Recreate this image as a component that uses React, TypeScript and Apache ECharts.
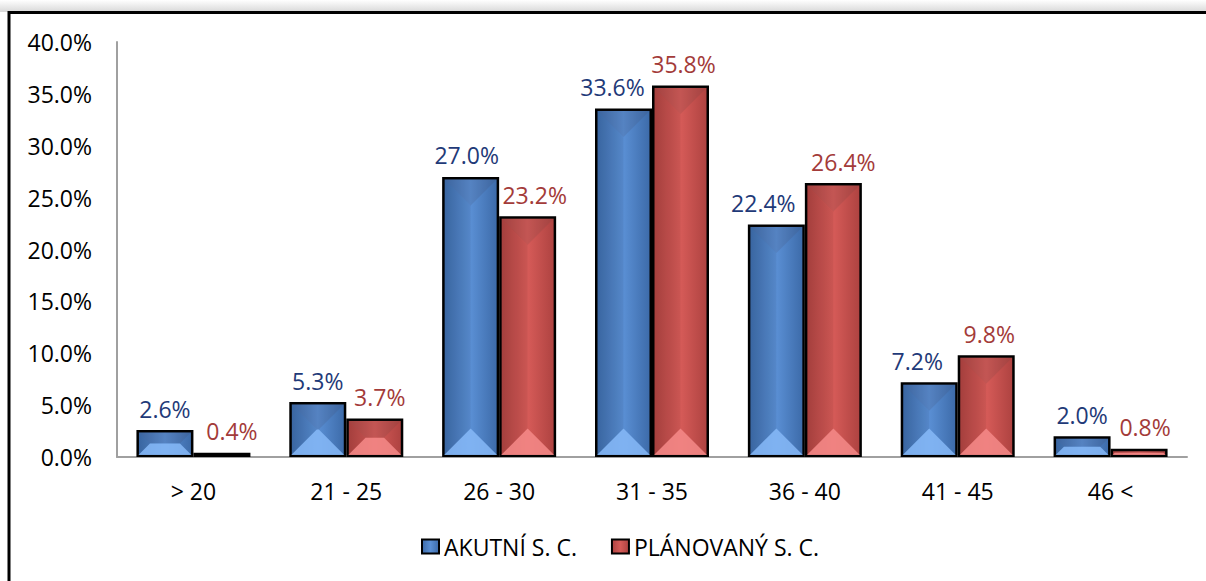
import React, { useEffect, useRef } from "react";
import * as echarts from "echarts";

const categories = ["> 20", "21 - 25", "26 - 30", "31 - 35", "36 - 40", "41 - 45", "46 <"];
const akutni = [2.6, 5.3, 27.0, 33.6, 22.4, 7.2, 2.0];
const planovany = [0.4, 3.7, 23.2, 35.8, 26.4, 9.8, 0.8];
const seriesNames = ["AKUTNÍ S. C.", "PLÁNOVANÝ S. C."];

// horizontal nudges of the value labels (as placed in the original)
const akutniLabelShift = [0, 0, -4, -11, -13, -12, 0];
const planovanyLabelShift = [10, 5, 7, 3, 10, 3, 6];

const FONT = "'Open Sans', 'Noto Sans', sans-serif";
const BAR_W = 57;

const palettes = [
  { edge: "#3c6aa8", mid: "#5a8fd4", top: "rgba(60,70,100,0.16)", bottom: "#86b9f7", label: "#1f3a78" },
  { edge: "#ad4240", mid: "#d65b58", top: "rgba(100,60,60,0.16)", bottom: "#f58a88", label: "#a33b39" },
];

function bevelRender(seriesIdx: number) {
  return (params: any, api: any) => {
    const i = api.value(0);
    const v = api.value(1);
    const base = api.coord([i, 0]);
    const topPt = api.coord([i, v]);
    const cx = base[0];
    const x0 = (seriesIdx === 0 ? cx - BAR_W : cx) + 2;
    const x1 = (seriesIdx === 0 ? cx : cx + BAR_W) - 2;
    const y0 = topPt[1] + 2;
    const y1 = base[1] - 2;
    const w = x1 - x0;
    const h = y1 - y0;
    if (h <= 1) return { type: "group", children: [] };
    const d = Math.min(w / 2, h / 2);
    const p = palettes[seriesIdx];
    return {
      type: "group",
      children: [
        {
          type: "polygon",
          shape: { points: [[x0, y0], [x1, y0], [x1 - d, y0 + d], [x0 + d, y0 + d]] },
          style: { fill: p.top },
        },
        {
          type: "polygon",
          shape: { points: [[x0, y1], [x1, y1], [x1 - d, y1 - d], [x0 + d, y1 - d]] },
          style: { fill: p.bottom, opacity: 0.85 },
        },
        {
          type: "polygon",
          shape: { points: [[x0, y0], [x0 + d, y0 + d], [x0 + d, y1 - d], [x0, y1]] },
          style: { fill: "rgba(0,0,0,0.05)" },
        },
      ],
    };
  };
}

export default function App() {
  const ref = useRef<HTMLDivElement>(null);
  useEffect(() => {
    if (!ref.current) return;
    const chart = echarts.init(ref.current, null, { renderer: "svg" });
    const shifts = [akutniLabelShift, planovanyLabelShift];
    const barSeries = [akutni, planovany].map((data, s) => ({
      name: seriesNames[s],
      type: "bar",
      data: data.map((v, i) => ({ value: v, label: { offset: [shifts[s][i], 0] } })),
      barWidth: BAR_W,
      barGap: "0%",
      itemStyle: {
        color: new echarts.graphic.LinearGradient(0, 0, 1, 0, [
          { offset: 0, color: palettes[s].edge },
          { offset: 0.5, color: palettes[s].mid },
          { offset: 1, color: palettes[s].edge },
        ]),
        borderColor: "#000",
        borderWidth: 2.5,
      },
      label: {
        show: true,
        position: "top",
        distance: 10,
        color: palettes[s].label,
        fontFamily: FONT,
        fontSize: 23,
        formatter: (p: any) => p.value.toFixed(1) + "%",
      },
      z: 2,
    }));
    const bevelSeries = [akutni, planovany].map((data, s) => ({
      type: "custom",
      renderItem: bevelRender(s),
      data: data.map((v, i) => [i, v]),
      silent: true,
      z: 3,
      legendHoverLink: false,
    }));
    chart.setOption({
      animation: false,
      backgroundColor: "#fff",
      graphic: [
        {
          type: "rect",
          shape: { x: 0, y: 0, width: 1206, height: 12 },
          style: {
            fill: new echarts.graphic.LinearGradient(0, 0, 0, 1, [
              { offset: 0, color: "#ffffff" },
              { offset: 1, color: "#d8d8d8" },
            ]),
          },
          z: -1,
        },
        {
          type: "rect",
          shape: { x: 9, y: 12.5, width: 1400, height: 800 },
          style: { fill: "none", stroke: "#000", lineWidth: 3 },
          z: 10,
        },
      ],
      legend: {
        data: seriesNames,
        bottom: 18,
        left: 416,
        itemWidth: 17,
        itemHeight: 14,
        itemGap: 34,
        icon: "rect",
        textStyle: { fontFamily: FONT, fontSize: 23, color: "#000" },
        itemStyle: { borderColor: "#000", borderWidth: 2 },
      },
      grid: { left: 117, right: 19, top: 42, bottom: 124, containLabel: false },
      xAxis: {
        type: "category",
        data: categories,
        axisLine: { lineStyle: { color: "#a0a0a0", width: 2 } },
        axisTick: { show: false },
        axisLabel: { color: "#000", fontFamily: FONT, fontSize: 23, margin: 22 },
      },
      yAxis: {
        type: "value",
        min: 0,
        max: 40,
        interval: 5,
        axisLine: { show: true, lineStyle: { color: "#a0a0a0", width: 2 } },
        axisTick: { show: false },
        splitLine: { show: false },
        axisLabel: {
          color: "#000",
          fontFamily: FONT,
          fontSize: 23,
          margin: 25,
          formatter: (v: number) => v.toFixed(1) + "%",
        },
      },
      series: [...barSeries, ...bevelSeries],
    });
    return () => chart.dispose();
  }, []);
  return (
    <div
      ref={ref}
      style={{ position: "absolute", left: 0, top: 0, width: 1206, height: 581 }}
    />
  );
}
